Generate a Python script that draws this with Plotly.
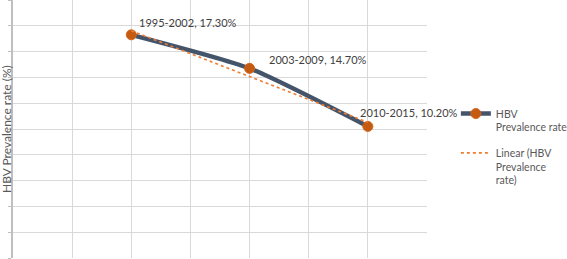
import numpy as np
import plotly.graph_objects as go

periods = ["1995-2002", "2003-2009", "2010-2015"]
period_pos = [1, 2, 3]
prevalence = [17.30, 14.70, 10.20]
series_name = "HBV<br>Prevalence rate"
trend_name = "Linear (HBV<br>Prevalence<br>rate)"
y_title = "HBV Prevalence rate (%)"

slope, intercept = np.polyfit(period_pos, prevalence, 1)
trend = [slope * x + intercept for x in period_pos]

FONT = "Lato"

fig = go.Figure()
fig.add_trace(go.Scatter(
    x=period_pos, y=prevalence, mode="lines+markers", name=series_name,
    legendgroup="a",
    line=dict(color="#44546A", width=4.5, shape="spline", smoothing=0.6),
    marker=dict(color="#C55A11", size=10, line=dict(color="#D0661C", width=1)),
))
fig.add_trace(go.Scatter(
    x=[period_pos[0], period_pos[-1]], y=[trend[0], trend[-1]], mode="lines",
    name=trend_name, legendgroup="b",
    line=dict(color="#ED7D31", width=1.6, dash="dot"),
))

offsets = [(6, -12), (17, -9), (-10, -14)]
for p, x, v, (dx, dy) in zip(periods, period_pos, prevalence, offsets):
    fig.add_annotation(x=x, y=v, text=f"{p}, {v:.2f}%", showarrow=False,
                       xanchor="left", yanchor="middle", xshift=dx, yshift=-dy,
                       font=dict(size=11, color="#404040", family=FONT))

fig.add_annotation(xref="paper", yref="paper", x=0, y=0.5, xshift=-7,
                   text=y_title, textangle=-90, showarrow=False,
                   xanchor="center", yanchor="middle",
                   font=dict(size=12, color="#595959", family=FONT))

fig.update_xaxes(range=[0, 3.5], dtick=0.5, tick0=0, showticklabels=False,
                 showgrid=True, gridcolor="#D9D9D9", gridwidth=1.2, zeroline=False,
                 showline=False)
fig.update_yaxes(range=[0, 20], dtick=2, tick0=0, showticklabels=False,
                 showgrid=True, gridcolor="#D9D9D9", gridwidth=1.2, zeroline=False,
                 showline=True, linecolor="#BFBFBF", linewidth=1.5,
                 ticks="outside", ticklen=3, tickcolor="#BFBFBF", automargin=False)

fig.update_layout(
    width=567, height=259,
    margin=dict(l=13, r=140, t=0, b=1),
    paper_bgcolor="white", plot_bgcolor="white",
    font=dict(family=FONT, size=11, color="#595959"),
    legend=dict(xref="container", yref="container", x=0.804, y=0.613,
                xanchor="left", yanchor="top", traceorder="grouped",
                tracegroupgap=9, valign="top",
                font=dict(size=10.5, color="#595959", family=FONT),
                bgcolor="rgba(0,0,0,0)"),
)
fig.write_html("out.html", config={"displayModeBar": False},
               post_script="document.body.style.margin='0px';document.body.style.overflow='hidden';")
